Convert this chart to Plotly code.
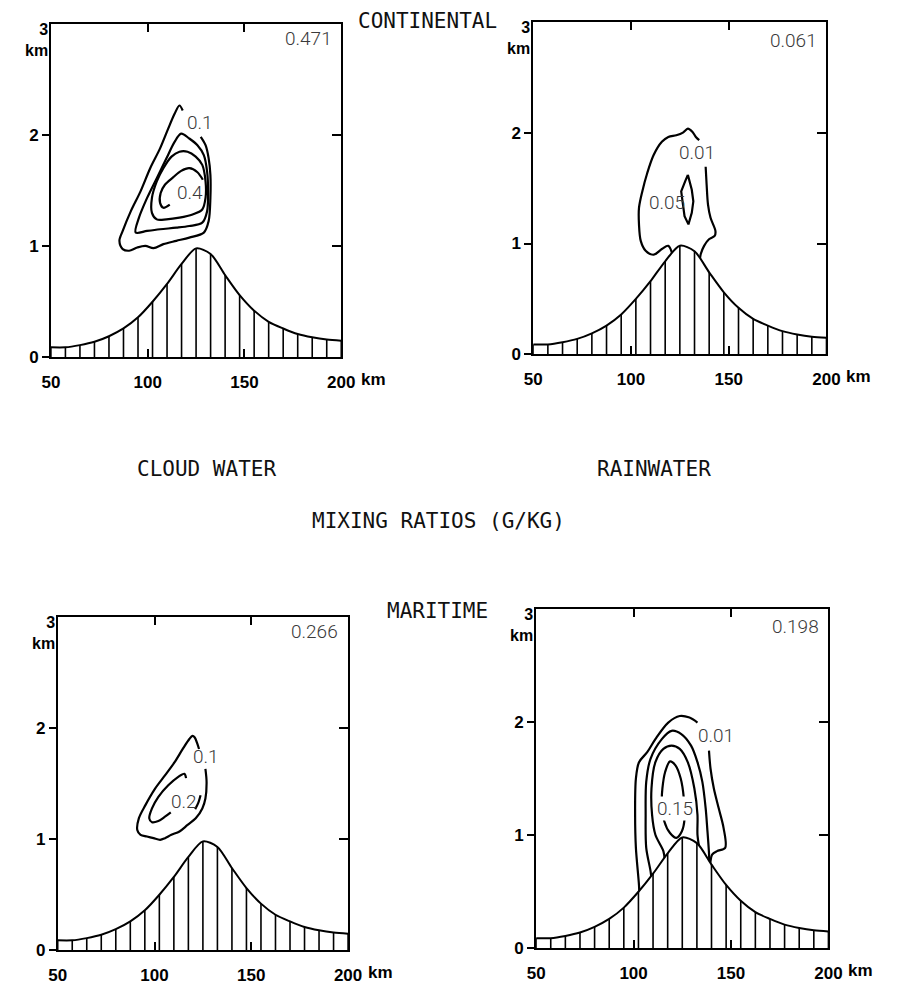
import plotly.graph_objects as go

# ---------------- data (km) ----------------
terrain_x = [50, 57.5, 65, 72.5, 80, 87.5, 95, 102.5, 110, 117.5, 125, 132.5,
             140, 147.5, 155, 162.5, 170, 177.5, 185, 192.5, 200]
terrain_h = [0.09, 0.09, 0.11, 0.14, 0.19, 0.26, 0.36, 0.50, 0.66, 0.84, 0.98, 0.93,
             0.74, 0.56, 0.42, 0.32, 0.26, 0.21, 0.18, 0.16, 0.15]

x_tick_vals = [50, 100, 150, 200]
x_tick_text = ["50", "100", "150", "200"]
y_tick_vals = [0, 1, 2]
y_tick_text = ["0", "1", "2"]

# Continental cloud water contours
cc_01_x = [118.1, 116.4, 113.9, 110.6, 106.4, 101.3, 96.3, 91.3, 87.1, 85.4, 87.1, 90.4, 94.6,
           98.8, 103.0, 108.1, 114.8, 121.5, 129.0, 131.5, 132.4, 132.4, 131.5, 129.9, 127.4]
cc_01_z = [2.22, 2.265, 2.19, 2.057, 1.879, 1.701, 1.493, 1.315, 1.137, 1.048, 0.974, 0.959, 0.988,
           1.003, 0.982, 1.018, 1.048, 1.077, 1.122, 1.226, 1.434, 1.641, 1.79, 1.908, 1.983]
cc_02_x = [117.3, 113.9, 109.7, 104.7, 99.7, 95.5, 93.8, 99.7, 106.4, 114.8, 121.5, 128.2, 130.7,
           131.2, 130.7, 129.0, 125.7, 121.5, 117.3]
cc_02_z = [2.012, 1.938, 1.79, 1.612, 1.434, 1.256, 1.122, 1.137, 1.152, 1.166, 1.181, 1.211, 1.315,
           1.493, 1.671, 1.819, 1.908, 1.968, 2.012]
cc_03_x = [116.4, 112.3, 108.1, 104.7, 102.2, 102.2, 104.7, 109.7, 116.4, 123.2, 128.2, 129.9,
           129.9, 128.2, 124.8, 120.6, 116.4]
cc_03_z = [1.849, 1.805, 1.701, 1.582, 1.434, 1.3, 1.241, 1.241, 1.256, 1.285, 1.33, 1.434,
           1.582, 1.731, 1.805, 1.849, 1.849]
cc_04_x = [111.4, 108.1, 106.4, 106.7, 108.9, 113.1, 117.3, 121.5, 125.7, 128.5]
cc_04_z = [1.374, 1.345, 1.389, 1.478, 1.552, 1.618, 1.677, 1.701, 1.665, 1.597]

# Continental rainwater contours
cr_001a_x = [135.0, 135.7, 137.4, 139.9, 142.8, 143.2, 140.7, 139.4, 138.7, 138.2]
cr_001a_z = [0.80, 0.905, 0.979, 1.039, 1.068, 1.113, 1.232, 1.351, 1.53, 1.693]
cr_001b_x = [134.9, 133.2, 131.5, 129.1, 126.6, 123.2, 119.1, 115.8, 111.6, 108.3, 105.8, 104.1,
             104.1, 105.0, 107.5, 111.6, 115.8, 119.1, 122.0]
cr_001b_z = [1.932, 1.961, 2.006, 2.036, 2.0, 1.976, 1.961, 1.917, 1.798, 1.634, 1.47, 1.321,
             1.173, 1.024, 0.935, 0.899, 0.95, 0.979, 0.85]
cr_005_x = [129.1, 131.1, 131.9, 131.1, 129.4, 127.4, 126.6, 125.7, 127.7, 129.1]
cr_005_z = [1.619, 1.485, 1.381, 1.277, 1.173, 1.247, 1.351, 1.47, 1.56, 1.619]

# Maritime cloud water contours
mc_01_x = [126.3, 126.9, 126.3, 124.7, 121.3, 117.1, 112.9, 108.7, 105.4, 102.9, 99.5, 96.1, 92.8,
           91.1, 91.9, 95.3, 100.3, 105.4, 110.4, 114.6, 118.0, 119.6, 120.8, 122.2, 123.0]
mc_01_z = [1.632, 1.514, 1.365, 1.276, 1.187, 1.128, 1.069, 1.039, 1.009, 0.994, 1.009, 1.024, 1.039,
           1.083, 1.187, 1.306, 1.454, 1.573, 1.692, 1.811, 1.9, 1.929, 1.914, 1.855, 1.81]
mc_02a_x = [116.3, 115.4, 112.1, 107.1, 102.0, 98.7, 97.3, 98.7, 102.0, 105.4, 108.4]
mc_02a_z = [1.549, 1.588, 1.558, 1.484, 1.38, 1.276, 1.187, 1.152, 1.163, 1.202, 1.241]
mc_02b_x = [121.0, 122.5, 123.8]
mc_02b_z = [1.27, 1.321, 1.395]

# Maritime rainwater contours
mr_001a_x = [139.3, 139.5, 140.3, 142.8, 147.0, 146.2, 143.7, 141.2, 139.5, 138.7]
mr_001a_z = [0.70, 0.771, 0.829, 0.859, 0.888, 1.063, 1.237, 1.412, 1.587, 1.747]
mr_001b_x = [132.8, 128.7, 123.7, 117.8, 111.2, 107.0, 102.8, 101.2, 100.8, 101.2, 102.8, 103.0]
mr_001b_z = [1.995, 2.039, 2.053, 1.995, 1.849, 1.733, 1.645, 1.5, 1.179, 0.888, 0.553, 0.45]
mr_005_x = [109.3, 108.7, 106.5, 106.2, 106.5, 108.7, 114.5, 119.5, 124.5, 129.5, 132.8, 135.3,
            137.0, 137.8, 138.7, 138.9]
mr_005_z = [0.60, 0.684, 0.888, 1.179, 1.471, 1.675, 1.849, 1.922, 1.893, 1.791, 1.645, 1.471,
            1.237, 1.063, 0.844, 0.75]
mr_01_x = [116.0, 115.3, 111.2, 109.5, 109.2, 111.2, 115.3, 119.5, 123.7, 127.8, 131.2, 132.8,
           132.8, 133.7, 134.0]
mr_01_z = [0.78, 0.859, 1.004, 1.179, 1.412, 1.645, 1.762, 1.791, 1.762, 1.645, 1.412, 1.179,
           1.004, 0.888, 0.85]
mr_015_x = [118.7, 116.2, 114.8, 114.5, 115.8, 118.7, 122.0, 124.8, 126.2, 125.8, 124.2, 121.5, 118.7]
mr_015_z = [1.652, 1.558, 1.413, 1.296, 1.121, 1.019, 0.976, 1.034, 1.15, 1.325, 1.5, 1.617, 1.652]

# maxima printed in the corner of each panel
max_text = ["0.471", "0.061", "0.266", "0.198"]

# contour labels: text, x, z
cc_labels = [("0.1", 126.8, 2.116), ("0.4", 121.8, 1.484)]
cr_labels = [("0.01", 134.0, 1.821), ("0.05", 118.6, 1.366)]
mc_labels = [("0.1", 126.7, 1.745), ("0.2", 115.1, 1.342)]
mr_labels = [("0.01", 142.5, 1.879), ("0.15", 121.2, 1.237)]

headers = ["CONTINENTAL", "MARITIME", "CLOUD WATER", "RAINWATER", "MIXING RATIOS (G/KG)"]

# ---------------- layout geometry ----------------
W, H = 897, 994
panels = [
    dict(px=(43, 341), py=(24, 361), lines=[(cc_01_x, cc_01_z, "spline"), (cc_02_x, cc_02_z, "spline"),
                                           (cc_03_x, cc_03_z, "spline"), (cc_04_x, cc_04_z, "spline")],
         labels=cc_labels, mx=max_text[0], mxy=2.87),
    dict(px=(538, 839), py=(22, 358), lines=[(cr_001a_x, cr_001a_z, "spline"), (cr_001b_x, cr_001b_z, "spline"),
                                            (cr_005_x, cr_005_z, "linear")],
         labels=cr_labels, mx=max_text[1], mxy=2.83),
    dict(px=(50, 348), py=(623, 960), lines=[(mc_01_x, mc_01_z, "spline"), (mc_02a_x, mc_02a_z, "spline"),
                                            (mc_02b_x, mc_02b_z, "spline")],
         labels=mc_labels, mx=max_text[2], mxy=2.87),
    dict(px=(541, 841), py=(615, 958), lines=[(mr_001a_x, mr_001a_z, "spline"), (mr_001b_x, mr_001b_z, "spline"),
                                            (mr_005_x, mr_005_z, "spline"), (mr_01_x, mr_01_z, "spline"),
                                            (mr_015_x, mr_015_z, "spline")],
         labels=mr_labels, mx=max_text[3], mxy=2.84),
]

fig = go.Figure()
layout = dict(width=W, height=H, margin=dict(l=0, r=0, t=0, b=0),
              paper_bgcolor="white", plot_bgcolor="rgba(0,0,0,0)", showlegend=False)
annotations = []
tick_font = dict(family="Liberation Sans", size=17, color="black", weight="bold")
lbl_font = dict(family="Roboto", size=19, color="#3a3a3a", weight=300)

hatch_x, hatch_y = [], []
for hx, hh in zip(terrain_x, terrain_h):
    hatch_x += [hx, hx, None]
    hatch_y += [0, hh, None]

for i, p in enumerate(panels):
    n = i + 1
    xs = "" if n == 1 else str(n)
    xname, yname = "x" + xs, "y" + xs
    yover = "y" + str(n + 4)
    xd = [p["px"][0] / W, p["px"][1] / W]
    yd = [1 - p["py"][1] / H, 1 - p["py"][0] / H]
    layout["xaxis" + xs] = dict(domain=xd, anchor=yname, range=[50, 200], tickvals=x_tick_vals,
                                ticktext=x_tick_text, ticks="inside", ticklen=8, tickwidth=1.8,
                                tickcolor="black", showline=True, linecolor="black", linewidth=1.8,
                                mirror="ticks", showgrid=False, zeroline=False, tickfont=tick_font,
                                ticklabelstandoff=8, fixedrange=True)
    layout["yaxis" + xs] = dict(domain=yd, anchor=xname, range=[0, 3], tickvals=y_tick_vals,
                                ticktext=y_tick_text, ticks="outside", ticklen=7, tickwidth=1.8,
                                tickcolor="black", showline=True, linecolor="black", linewidth=1.8,
                                mirror=True, showgrid=False, zeroline=False, tickfont=tick_font,
                                fixedrange=True)
    layout["yaxis" + str(n + 4)] = dict(overlaying=yname, anchor=xname, side="right", range=[0, 3],
                                        tickvals=[1, 2], ticks="inside", ticklen=9, tickwidth=1.8,
                                        tickcolor="black", showticklabels=False, showline=False,
                                        showgrid=False, zeroline=False, fixedrange=True)
    fig.add_trace(go.Scatter(x=[None], y=[None], xaxis=xname, yaxis=yover, hoverinfo="skip"))

    for lx, lz, shape in p["lines"]:
        fig.add_trace(go.Scatter(x=lx, y=lz, mode="lines", xaxis=xname, yaxis=yname,
                                 line=dict(color="black", width=2.2, shape=shape, smoothing=0.9),
                                 hoverinfo="skip"))
    fig.add_trace(go.Scatter(x=terrain_x, y=terrain_h, mode="lines", xaxis=xname, yaxis=yname,
                             fill="tozeroy", fillcolor="white",
                             line=dict(color="black", width=2.0, shape="spline", smoothing=0.8),
                             hoverinfo="skip"))
    fig.add_trace(go.Scatter(x=hatch_x, y=hatch_y, mode="lines", xaxis=xname, yaxis=yname,
                             line=dict(color="black", width=1.6), hoverinfo="skip"))

    for txt, lx, lz in p["labels"]:
        annotations.append(dict(text=txt, x=lx, y=lz, xref=xname, yref=yname, showarrow=False,
                                font=lbl_font, bgcolor="white" if txt == "0.15" else None,
                                borderpad=0))
    annotations.append(dict(text=p["mx"], x=196, y=p["mxy"], xref=xname, yref=yname,
                            xanchor="right", showarrow=False, font=lbl_font))
    annotations.append(dict(text="3<br>km", x=0, y=1, xref=xname + " domain", yref=yname + " domain",
                            xanchor="right", yanchor="top", align="right", xshift=-1, yshift=5,
                            showarrow=False, font=dict(tick_font, size=16)))
    annotations.append(dict(text="km", x=1, y=0, xref=xname + " domain", yref=yname + " domain",
                            xanchor="left", yanchor="middle", xshift=18, yshift=-22,
                            showarrow=False, font=tick_font))

hdr_font = dict(family="DejaVu Sans Mono", size=21, color="#111111")
hdr_pos = [(430, 21), (440, 617), (203, 474), (662, 474), (441, 526)]
for txt, (hx, hy) in zip(headers, hdr_pos):
    annotations.append(dict(text=txt, x=hx / W, y=1 - hy / H, xref="paper", yref="paper",
                            xanchor="center", yanchor="middle", showarrow=False, font=hdr_font))

layout["annotations"] = annotations
fig.update_layout(**layout)
fig.write_html("out.html", config={"displayModeBar": False},
               post_script="document.body.style.margin='0';")
